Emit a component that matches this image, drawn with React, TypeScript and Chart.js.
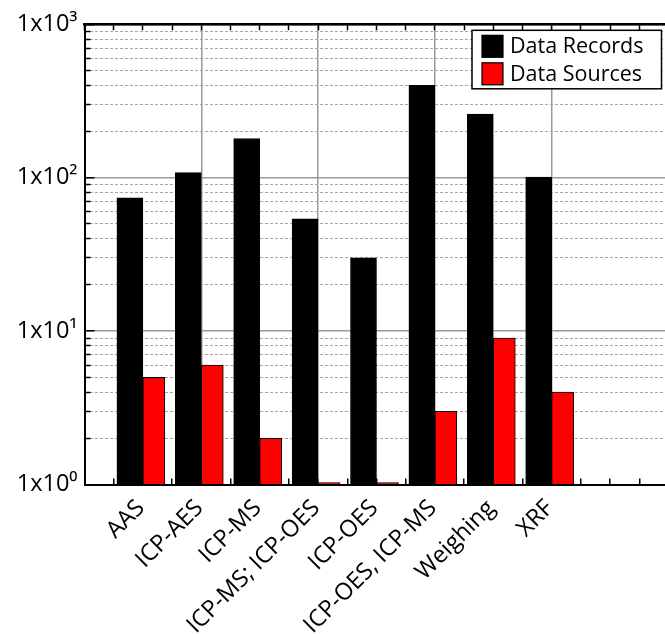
import React, { useEffect, useRef } from 'react';
import { Chart, registerables } from 'chart.js';

Chart.register(...registerables);

const categories = ['AAS', 'ICP-AES', 'ICP-MS', 'ICP-MS; ICP-OES', 'ICP-OES', 'ICP-OES, ICP-MS', 'Weighing', 'XRF'];
const dataRecords = [74, 108, 180, 54, 30, 400, 260, 101];
const dataSources = [5, 6, 2, 1, 1, 3, 9, 4];
const seriesNames = ['Data Records', 'Data Sources'];
const yMajorTicks = [1, 10, 100, 1000];
const yTickLabels = ['1x10⁰', '1x10¹', '1x10²', '1x10³'];
const yMinorTicks = [2, 3, 4, 5, 6, 7, 8, 9, 20, 30, 40, 50, 60, 70, 80, 90, 200, 300, 400, 500, 600, 700, 800, 900];
const xTickSteps = [0, 0.5, 1, 1.5, 2, 2.5, 3, 3.5, 4, 4.5, 5, 5.5, 6, 6.5, 7, 7.5, 8, 8.5, 9, 9.5, 10];
const xGridSteps = [2, 4, 6, 8];

const FONT = '"Open Sans", "DejaVu Sans", sans-serif';

const boxLegend = {
  id: 'boxLegend',
  afterDraw(chart: any) {
    const { ctx, chartArea } = chart;
    const fontSize = 21.5;
    ctx.save();
    ctx.font = `${fontSize}px ${FONT}`;
    const items = chart.data.datasets.map((d: any) => ({ text: d.label, fill: d.backgroundColor }));
    const textW = Math.max(...items.map((i: any) => ctx.measureText(i.text).width));
    const sw = 21, sh = 22, padL = 10, gap = 7, padR = 18, rowH = 27.5, padT = 5, padB = 4;
    const boxW = padL + sw + gap + textW + padR;
    const boxH = padT + rowH * (items.length - 1) + sh + padB;
    const right = chartArea.right - 7;
    const left = right - boxW;
    const top = chartArea.top + 6;
    ctx.fillStyle = '#ffffff';
    ctx.fillRect(left, top, boxW, boxH);
    ctx.strokeStyle = '#000000';
    ctx.lineWidth = 1.5;
    ctx.strokeRect(left, top, boxW, boxH);
    items.forEach((it: any, i: number) => {
      const sy = top + padT + i * rowH;
      ctx.fillStyle = it.fill;
      ctx.fillRect(left + padL, sy, sw, sh);
      ctx.lineWidth = 1.2;
      ctx.strokeStyle = '#000';
      ctx.strokeRect(left + padL, sy, sw, sh);
      ctx.fillStyle = '#000';
      ctx.textBaseline = 'middle';
      ctx.textAlign = 'left';
      ctx.fillText(it.text, left + padL + sw + gap, sy + sh / 2 + 1);
    });
    ctx.restore();
  },
};

export default function App() {
  const ref = useRef<HTMLCanvasElement>(null);

  useEffect(() => {
    const canvas = ref.current!;
    const pts = (vals: number[]) => vals.map((v, i) => ({ x: i + 1, y: v }));
    const noPad = (s: any) => {
      s.paddingLeft = 0;
      s.paddingRight = 0;
      s.paddingTop = 0;
      s.paddingBottom = 0;
    };
    const chart = new Chart(canvas, {
      type: 'bar',
      data: {
        datasets: [
          {
            label: seriesNames[0],
            data: pts(dataRecords),
            backgroundColor: '#000000',
            borderColor: '#000000',
            borderWidth: 1,
            barThickness: 26,
          },
          {
            label: seriesNames[1],
            data: pts(dataSources),
            backgroundColor: '#ff0000',
            borderColor: '#000000',
            borderWidth: 1,
            barThickness: 22,
            minBarLength: 2,
          },
        ] as any,
      },
      options: {
        responsive: false,
        animation: false,
        layout: { padding: { left: 0, top: 24.3, right: 31.5, bottom: 0 } },
        plugins: { legend: { display: false }, tooltip: { enabled: false } },
        scales: {
          x: {
            type: 'linear',
            position: 'bottom',
            min: 0,
            max: 10,
            offset: false,
            afterBuildTicks: (s: any) => {
              s.ticks = xTickSteps.map((v) => ({ value: v }));
            },
            ticks: {
              autoSkip: false,
              minRotation: 45,
              maxRotation: 45,
              padding: 16,
              labelOffset: -2,
              color: '#000',
              font: { family: FONT, size: 23.5 },
              callback: (v: any) => {
                const n = Number(v);
                return Number.isInteger(n) && n >= 1 && n <= categories.length ? categories[n - 1] : '';
              },
            },
            grid: {
              offset: false,
              drawOnChartArea: true,
              color: (c: any) => (c.tick && xGridSteps.includes(c.tick.value) ? '#9a9a9a' : 'rgba(0,0,0,0)'),
              lineWidth: 1.5,
              tickLength: -6,
              tickColor: '#000',
              tickWidth: 1.5,
            },
            border: { color: '#000', width: 2, z: 1 },
            afterFit: (s: any) => {
              s.height = 634 - 484.5;
              noPad(s);
            },
          },
          x2: {
            type: 'linear',
            position: 'top',
            min: 0,
            max: 10,
            offset: false,
            afterBuildTicks: (s: any) => {
              s.ticks = xTickSteps.map((v) => ({ value: v }));
            },
            ticks: { display: false },
            grid: {
              offset: false,
              drawOnChartArea: false,
              tickLength: -6,
              tickColor: '#000',
              tickWidth: 1.5,
            },
            border: { color: '#000', width: 2.5, z: 1 },
            afterFit: (s: any) => {
              s.height = 0;
              noPad(s);
            },
          },
          y: {
            type: 'logarithmic',
            position: 'left',
            min: 1,
            max: 1000,
            weight: 1,
            afterBuildTicks: (s: any) => {
              s.ticks = yMajorTicks.map((v) => ({ value: v }));
            },
            ticks: {
              padding: 17,
              color: '#000',
              font: { family: FONT, size: 23.5 },
              callback: (v: any) => {
                const i = yMajorTicks.indexOf(Number(v));
                return i >= 0 ? yTickLabels[i] : '';
              },
            },
            grid: {
              color: '#9a9a9a',
              lineWidth: 1.5,
              tickLength: -10,
              tickColor: '#000',
              tickWidth: 1.5,
            },
            border: { color: '#000', width: 2, z: 1 },
            afterFit: (s: any) => {
              s.width = 84.5;
              noPad(s);
            },
          },
          y2: {
            type: 'logarithmic',
            position: 'left',
            min: 1,
            max: 1000,
            weight: 0,
            afterBuildTicks: (s: any) => {
              s.ticks = yMinorTicks.map((v) => ({ value: v }));
            },
            ticks: { display: false },
            grid: {
              color: '#a6a6a6',
              lineWidth: 1,
              tickLength: -6,
              tickColor: '#000',
              tickWidth: 1.5,
            },
            border: { display: false, dash: [3, 2] },
            afterFit: (s: any) => {
              s.width = 0;
              noPad(s);
            },
          },
        } as any,
      },
      plugins: [boxLegend],
    });
    return () => chart.destroy();
  }, []);

  return (
    <div
      style={{
        position: 'fixed',
        left: 0,
        top: 0,
        width: 665,
        height: 634,
        overflow: 'hidden',
        background: '#ffffff',
      }}
    >
      <canvas ref={ref} width={700} height={634} style={{ display: 'block' }} />
    </div>
  );
}
